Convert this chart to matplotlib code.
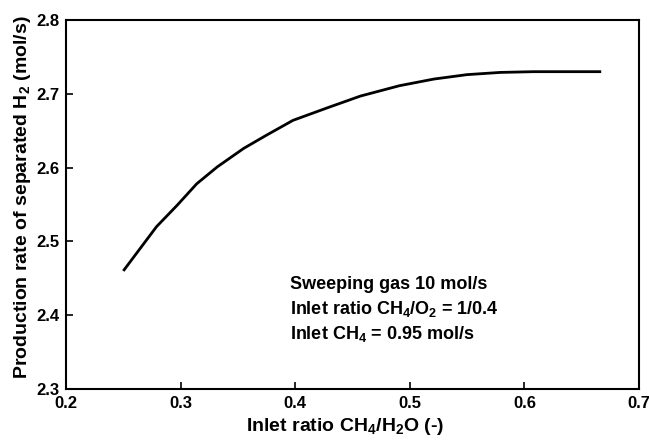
import matplotlib
matplotlib.use("Agg")
import matplotlib.pyplot as plt

# Data
ratio_ch4_h2o = [0.250, 0.279, 0.297, 0.314, 0.332, 0.355, 0.375, 0.398, 0.428,
                 0.457, 0.491, 0.521, 0.550, 0.579, 0.608, 0.667]
h2_rate = [2.460, 2.520, 2.549, 2.578, 2.601, 2.626, 2.644, 2.664, 2.681,
           2.697, 2.711, 2.720, 2.726, 2.729, 2.730, 2.730]

xticks = [0.2, 0.3, 0.4, 0.5, 0.6, 0.7]
yticks = [2.3, 2.4, 2.5, 2.6, 2.7, 2.8]
annotation_lines = ["Sweeping gas 10 mol/s",
                    r"Inlet ratio CH$_4$/O$_2$ = 1/0.4",
                    r"Inlet CH$_4$ = 0.95 mol/s"]

plt.rcParams['font.family'] = ['Liberation Sans', 'DejaVu Sans']
plt.rcParams['font.weight'] = 'bold'
plt.rcParams['mathtext.fontset'] = 'custom'
plt.rcParams['mathtext.rm'] = 'Liberation Sans:bold'
plt.rcParams['mathtext.it'] = 'Liberation Sans:bold'
plt.rcParams['mathtext.bf'] = 'Liberation Sans:bold'
plt.rcParams['mathtext.default'] = 'rm'

fig = plt.figure(figsize=(6.49, 4.40), dpi=100)
ax = fig.add_axes([0.1017, 0.1159, 0.8829, 0.8386])

ax.plot(ratio_ch4_h2o, h2_rate, color='black', lw=2.0, solid_capstyle='butt')

ax.set_xlim(0.2, 0.7)
ax.set_ylim(2.3, 2.8)
ax.set_xticks(xticks)
ax.set_yticks(yticks)
ax.set_xticklabels([f"{v:.1f}" for v in xticks])
ax.set_yticklabels([f"{v:.1f}" for v in yticks])
ax.tick_params(direction='in', length=5, width=1.2, labelsize=12, pad=5)
for sp in ax.spines.values():
    sp.set_linewidth(1.5)

ax.set_xlabel(r"Inlet ratio CH$_4$/H$_2$O (-)", fontsize=14, fontweight='bold')
ax.set_ylabel(r"Production rate of separated H$_2$ (mol/s)", fontsize=14, fontweight='bold')
ax.xaxis.set_label_coords(0.488, -0.072)
ax.yaxis.set_label_coords(-0.058, 0.52)

for i, line in enumerate(annotation_lines):
    ax.text(0.3955, 2.4354 - i * 0.0338, line, fontsize=13, fontweight='bold',
            va='baseline', ha='left')

fig.savefig("out.png", dpi=100)
